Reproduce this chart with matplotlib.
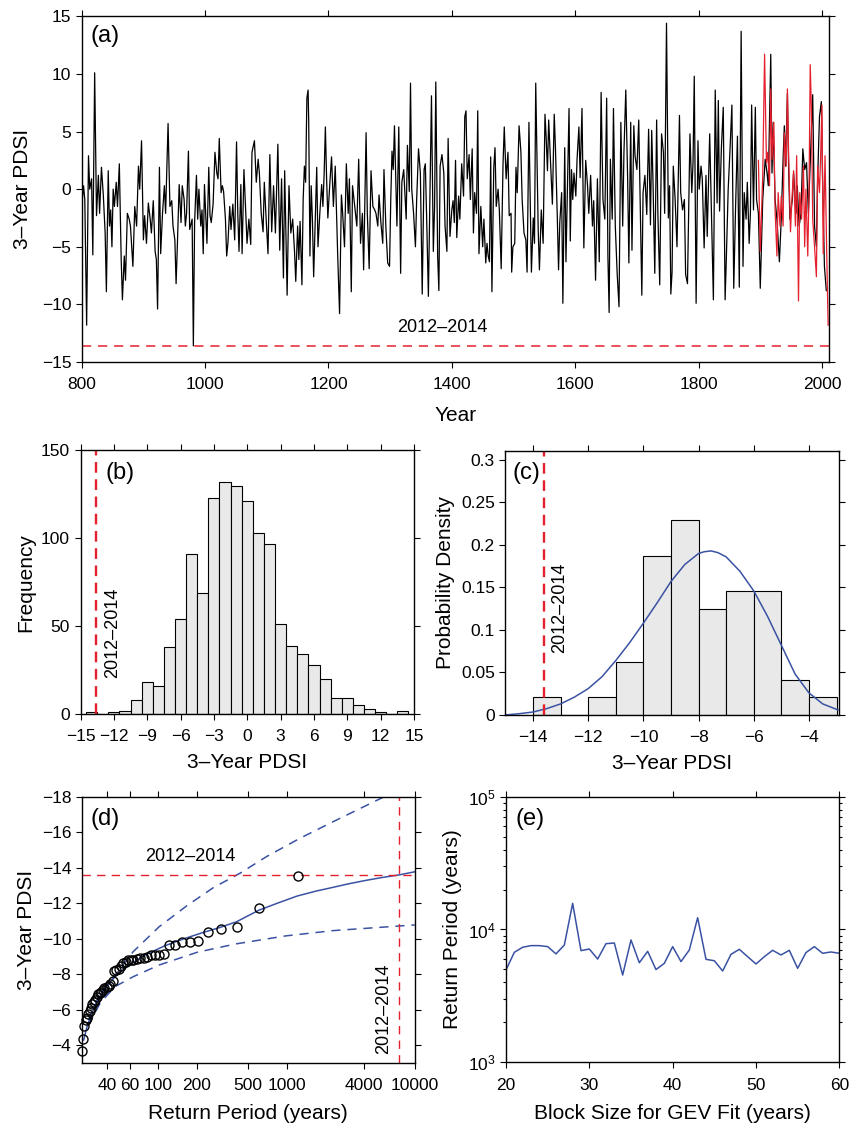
import numpy as np
import matplotlib
matplotlib.use('Agg')
import matplotlib.pyplot as plt
from matplotlib.ticker import FuncFormatter, NullLocator, FixedLocator, LogLocator

plt.rcParams['font.family'] = ['Liberation Sans', 'DejaVu Sans']

#============ Data ==============
# (a) 3-year PDSI reconstruction (black) and instrumental (red)
yr_recon = [800, 803, 805, 808, 811, 813, 816, 818, 821, 824, 827, 829, 832, 835, 838, 840,
            843, 845, 847, 849, 851, 853, 856, 858, 861, 864, 866, 869, 871, 874, 877, 879,
            883, 886, 889, 892, 894, 897, 900, 902, 905, 908, 911, 913, 916, 919, 921, 923,
            926, 928, 931, 934, 936, 938, 940, 943, 946, 948, 951, 953, 955, 958, 961, 963,
            966, 968, 970, 973, 975, 979, 981, 983, 986, 988, 990, 993, 995, 997, 999, 1001,
            1003, 1006, 1008, 1010, 1013, 1016, 1019, 1021, 1023, 1026, 1028, 1030, 1033, 1035,
            1037, 1040, 1042, 1045, 1048, 1051, 1053, 1055, 1058, 1060, 1063, 1065, 1068, 1071,
            1074, 1076, 1080, 1083, 1086, 1088, 1091, 1094, 1096, 1099, 1102, 1105, 1108, 1111,
            1114, 1118, 1121, 1124, 1127, 1129, 1133, 1136, 1139, 1142, 1145, 1147, 1150, 1152,
            1154, 1157, 1159, 1161, 1163, 1165, 1167, 1168, 1170, 1172, 1174, 1176, 1179, 1181,
            1183, 1186, 1189, 1191, 1193, 1195, 1197, 1199, 1202, 1205, 1208, 1211, 1215, 1218,
            1221, 1223, 1226, 1229, 1232, 1234, 1237, 1239, 1242, 1246, 1249, 1252, 1255, 1257,
            1261, 1263, 1266, 1269, 1272, 1275,
            1277, 1280, 1282, 1285, 1288, 1290, 1293, 1296, 1299, 1301, 1303, 1305, 1307, 1311,
            1314, 1317, 1319, 1322, 1326, 1328, 1331, 1333, 1335, 1338, 1341, 1343, 1346, 1349,
            1352, 1355, 1357, 1359, 1362, 1364, 1367, 1370, 1372, 1374, 1377, 1379, 1381, 1384,
            1387, 1389, 1392, 1394, 1397, 1400, 1402, 1404, 1406, 1408, 1411, 1413, 1416, 1419,
            1421, 1423, 1425, 1428, 1430, 1433, 1435, 1437, 1440, 1442, 1444, 1447, 1450, 1452,
            1455, 1457, 1459, 1461, 1463, 1465, 1468, 1470, 1472, 1475, 1477, 1480, 1483, 1485,
            1488, 1491, 1493, 1496, 1497, 1499, 1502, 1504, 1506, 1509, 1512, 1514,
            1517, 1520, 1522, 1525, 1529, 1532, 1534, 1536, 1540, 1542, 1545, 1548, 1551, 1553,
            1555, 1557, 1560, 1563, 1566, 1568, 1571, 1573, 1575, 1578, 1580, 1583, 1585, 1587,
            1590, 1592, 1594, 1596, 1598, 1601, 1603, 1606, 1608, 1611, 1614, 1617, 1620, 1622,
            1625, 1628, 1630, 1633, 1636, 1639, 1642, 1645, 1648, 1651, 1653, 1655, 1657, 1660,
            1662, 1665, 1668, 1671, 1674, 1677, 1679, 1682, 1685, 1687, 1690, 1692, 1695, 1697,
            1700, 1703, 1705, 1708, 1710, 1713, 1716, 1719, 1722, 1724, 1726, 1729, 1732, 1734,
            1737, 1740, 1743, 1745, 1748, 1751, 1753, 1755,
            1757, 1759, 1762, 1765, 1769, 1771, 1774, 1777, 1779, 1782, 1785, 1786, 1789, 1791,
            1793, 1796, 1799, 1801, 1804, 1806, 1809, 1812, 1814, 1818, 1821, 1824, 1827, 1830,
            1832, 1834, 1837, 1840, 1843, 1845, 1848, 1851, 1854, 1857, 1860, 1863, 1866, 1869,
            1872, 1874, 1877, 1879, 1882, 1884, 1886, 1889, 1892, 1894, 1897, 1900, 1904, 1908,
            1911, 1913, 1917, 1919, 1921, 1924, 1927, 1931, 1934, 1937, 1939, 1941, 1944, 1946,
            1948, 1952, 1954, 1958, 1960, 1963, 1966, 1969, 1972, 1975, 1978, 1981, 1985, 1988,
            1991, 1993, 1996, 1999, 2001, 2004, 2007]
pdsi_recon = [-1.5, 0.3, -0.9, -11.8, 2.9, 0.0, 0.9, -5.7, 10.1, -2.3, 1.2, -2.1, 1.9, -0.5, -3.8, -8.9,
              1.6, -3.2, -1.8, -5.0, 0.0, -1.5, 0.6, -1.5, 2.2, -6.1, -9.6, -5.8, -7.9, -2.1, -2.6, -3.2,
              -6.7, -1.5, -3.2, 2.0, 0.0, 4.2, -4.4, -2.3, -4.7, -1.2, -2.6, -3.8, -1.0, -5.4, -6.1, -10.4,
              1.9, -5.6, -2.1, 0.3, -2.1, 1.9, 5.7, -1.5, -1.0, -3.2, -4.4, -8.2, -5.0, 0.4, -2.9, 0.3,
              -0.9, -3.2, -2.1, 3.3, -3.5, -2.6, -13.6, -2.9, 1.2, -2.6, 0.0, -3.2, -1.8, -5.6, 0.4, -2.1,
              -4.7, 1.9, -2.3, -2.9, -1.3, 3.2, 1.4, 0.9, 4.4, -0.3, 0.3, -0.2, -2.6, -5.8,
              -4.7, -1.5, -3.5, -1.3, -4.4, 4.1, -2.1, -5.4, 0.4, -5.6, 1.7, -0.9, -4.7, -2.6,
              -4.8, 3.2, 4.2, 0.6, 2.6, 1.4, -2.1, -3.7, 0.6, -2.6, -5.6, 3.0, -3.7, 0.3,
              -3.8, 3.9, -5.3, 0.9, -7.7, 1.6, -9.2, 0.3, -3.8, -2.6, -5.4, -8.0, -3.2, -6.1,
              -2.8, -8.3, -0.9, 2.0, 0.6, 7.9, 8.6, 5.8, -5.8, 0.3, -2.6, -7.6, -1.8, 1.9,
              -5.0, -2.1, 0.4, -1.5, 1.3, 5.4, 0.9, -2.5, 0.3, 2.8, -1.5, 2.0, -5.8, -10.8,
              -0.5, -2.1, -5.0, 2.2, -2.1, 0.9, -8.9, 0.3, -1.2, -3.2, 2.6, -4.7, -2.1, -7.0,
              4.9, -2.1, -6.9, 1.6, -1.5, -1.8,
              -2.1, -3.2, -0.5, -2.9, -4.7, 1.7, -3.2, -6.4, -6.7, -0.9, 3.3, 1.7, 5.5, -3.2,
              5.4, -7.3, 0.6, 1.7, -2.6, 3.8, -0.2, 9.2, 0.0, -2.1, -5.0, -0.9, 3.5, 1.4,
              -9.1, 1.7, 2.2, -2.1, -9.3, -2.1, 8.1, -5.4, -1.6, 9.3, -5.8, -8.8, 2.0, 3.0,
              1.4, -3.2, -5.4, 4.4, -4.1, -1.8, -1.0, -2.9, 2.5, -4.2, -0.6, -2.6, 2.2, -0.6,
              6.3, 6.8, 0.9, 3.0, -0.9, 3.5, -3.8, -0.3, -2.1, 6.8, -5.6, -1.5, -5.0, -2.6,
              -6.4, -4.7, -5.8, -6.3, 2.8, -8.9, 1.9, 3.6, -1.5, 0.0, -1.8, -6.9, 2.2, 5.4,
              0.9, 3.2, -2.3, -2.1, -7.2, -5.0, -4.7, 1.9, -0.3, 5.5, 3.2, -0.9,
              -3.8, -4.4, -7.2, 5.8, -7.2, -2.5, -4.7, 9.2, -3.5, -7.0, -1.8, -4.7, 6.5, 4.4,
              1.6, 6.0, 2.3, -1.3, 6.5, 3.5, -2.5, -7.0, -2.9, -0.3, -9.9, 3.6, -6.3, -0.9,
              7.0, -4.5, 1.7, -0.9, 1.4, -0.6, 2.6, 5.4, 1.0, 7.0, -5.1, 2.5, 0.3, -2.1,
              1.2, -3.2, -1.0, -7.9, 0.9, -6.3, 8.4, -0.9, -2.6, 7.9, -5.8, -10.7, 2.6, -2.6,
              7.0, -3.2, -7.3, -10.2, 5.8, -3.2, 3.2, 8.6, 0.9, -6.4, 5.8, -5.3, 5.5, 2.9,
              1.7, 6.0, -0.3, -9.2, -0.3, 1.2, -2.2, 5.2, -3.1, 5.1, 0.9, -7.3, 6.0, -2.1,
              -8.3, 4.8, 3.2, -2.1, 14.4, -2.5, 0.3, -9.1,
              -7.2, 2.0, -0.9, -5.0, 6.4, -0.3, -1.8, -0.9, -7.4, -8.2, 2.0, 4.8, -0.3, 2.3,
              9.8, -9.9, 4.2, 0.0, 2.0, 0.9, -5.1, 1.2, -4.1, 4.8, -2.6, -9.6, 8.6, -1.2,
              7.7, -1.9, 3.6, 7.1, -9.6, -6.0, 0.0, 3.5, 7.3, -8.6, -1.5, 4.6, -8.5, 13.7,
              -6.7, -0.3, -2.6, 0.6, -4.7, -2.1, 7.3, -1.8, 7.1, -0.9, -2.1, -8.6, -0.9, 2.6,
              1.4, 0.3, 11.7, 1.4, 5.8, -0.9, -2.6, -6.3, -2.6, 2.6, 5.5, 2.0, 8.3, 1.7,
              -2.6, -0.9, 1.4, -2.1, 0.3, -3.2, -2.1, 3.5, 1.7, 2.3, -2.1, 2.3, 8.2, -3.2,
              -5.0, 0.9, 6.3, 7.6, 0.9, -6.7, -8.8]
yr_instr = [1897, 1900, 1904, 1907, 1910, 1912, 1915, 1917, 1919, 1922, 1924, 1927, 1929, 1932,
            1934, 1937, 1939, 1942, 1944, 1946, 1949, 1951, 1954, 1957, 1959, 1962, 1964, 1967,
            1970, 1972, 1974, 1977, 1979, 1981, 1983, 1985, 1988, 1991, 1993, 1996, 1998, 2000,
            2002, 2005, 2008, 2010]
pdsi_instr = [2.5, -5.4, 1.2, 11.7, 2.3, 3.2, 0.3, 8.7, 2.6, 5.8, -1.8, -5.8, -0.3, -3.2,
              -0.6, -3.2, 4.9, 2.0, 8.7, 2.9, -3.7, -1.2, 1.6, -3.2, 2.9, -9.7, -0.3, -2.6,
              2.0, -5.0, 0.0, -5.8, -0.3, 10.8, 6.7, -2.6, -5.0, -7.6, 2.0, -0.3, 3.2, 7.3,
              -5.6, 2.9, -6.4, -11.8]
drought_2012_2014 = -13.6

# (b) histogram of 3-year PDSI, 1-unit bins
hist_centers = [-14, -13, -12, -11, -10, -9, -8, -7, -6, -5, -4, -3, -2, -1, 0,
                1, 2, 3, 4, 5, 6, 7, 8, 9, 10, 11, 12, 13, 14]
hist_counts = [1, 0, 1, 2, 8, 18, 16, 38, 54, 91, 69, 123, 132, 130, 121,
               103, 97, 51, 39, 34, 28, 20, 9, 9, 5, 3, 1, 0, 2]

# (c) block minima density + fitted GEV pdf
bm_left_edges = [-14, -13, -12, -11, -10, -9, -8, -7, -6, -5, -4]
bm_density = [0.0208, 0.0, 0.0208, 0.0625, 0.1875, 0.2292, 0.125, 0.1458, 0.1458, 0.0417, 0.0208]
pdf_x = [-15, -14.5, -14, -13.5, -13.0, -12.5, -12.0, -11.5, -11.0, -10.5, -10.0, -9.5, -9.0,
         -8.5, -8.0, -7.8, -7.55, -7.3, -7.0, -6.5, -6.0, -5.5, -5.0, -4.5, -4.0, -3.5, -2.95]
pdf_y = [0.0, 0.0015, 0.0035, 0.0075, 0.013, 0.021, 0.031, 0.045, 0.064, 0.085, 0.108, 0.132, 0.157,
         0.177, 0.190, 0.192, 0.193, 0.191, 0.186, 0.169, 0.146, 0.116, 0.082, 0.048, 0.026, 0.013, 0.006]

# (d) return levels
rp_obs = [1225, 612, 408, 306, 245, 204, 175, 153, 136, 122, 111, 102, 94, 88, 82, 77,
          72, 68, 64, 61, 58, 56, 53, 51, 49, 47, 45, 44, 42, 41, 40, 38, 37, 36, 35, 34,
          33, 32, 31.4, 30.6, 29.9, 29.2, 28.5, 27.8, 27.2, 26.6, 26.1, 25.5]
pdsi_obs = [-13.55, -11.71, -10.67, -10.54, -10.39, -9.88, -9.83, -9.83, -9.64, -9.64, -9.11,
            -9.1, -9.06, -9.05, -8.98, -8.92, -8.88, -8.85, -8.82, -8.8, -8.78, -8.7, -8.6,
            -8.45, -8.3, -8.25, -8.2, -7.6, -7.45, -7.35, -7.25, -7.2, -7.1, -7.0, -6.95,
            -6.85, -6.7, -6.55, -6.45, -6.3, -6.1, -5.9, -5.75, -5.55, -5.4, -5.05, -4.35, -3.66]
rp_fit = [26.2, 28.0, 30.4, 33.0, 36.4, 40.5, 46.1, 53.0, 62.2, 80.0, 113, 160, 218, 300,
          407, 607, 850, 1208, 1700, 2301, 3000, 4064, 5500, 7520, 10000]
pdsi_fit = [-4.28, -5.1, -5.79, -6.4, -6.92, -7.4, -7.85, -8.25, -8.61, -9.1, -9.6, -10.0,
            -10.32, -10.62, -10.95, -11.6, -12.0, -12.4, -12.68, -12.89, -13.08, -13.27,
            -13.44, -13.59, -13.77]
rp_ci = [28.6, 35.1, 42.0, 63.7, 101.6, 166, 268, 432, 696, 1265, 2301, 5650, 7600]
pdsi_ci_hi = [-5.4, -6.91, -7.57, -9.26, -10.67, -11.84, -12.87, -13.68, -14.62, -15.65,
              -16.59, -17.97, -18.4]
rp_ci_lo = [28.6, 35.1, 45.9, 63.7, 101.6, 201, 402, 979, 2301, 9960]
pdsi_ci_lo = [-5.1, -6.35, -7.29, -7.85, -8.51, -9.23, -9.7, -10.15, -10.45, -10.77]
rp_2012_2014 = 7520

# (e) return period vs block size
block_size = list(range(20, 61))
rp_block = [4960, 6730, 7350, 7560, 7560, 7430, 6550, 7640, 15740, 6930, 7130, 5990, 7820,
            7910, 4540, 8340, 5620, 6850, 4990, 5560, 7430, 5730, 7010, 12270, 5960, 5820,
            4870, 6500, 7090, 6240, 5500, 6240, 6970, 6430, 6970, 5100, 6700, 7430, 6620,
            6770, 6620]

#============ Style ==============
red = '#e4202e'
blue = '#3a52a3'
gray = '#e9e9e9'
tick_fs = 12.5
label_fs = 15
panel_fs = 17

def style_ax(ax):
    ax.tick_params(which='both', direction='out', top=True, right=True,
                   labelsize=tick_fs, width=0.8, pad=3)
    ax.tick_params(axis='x', which='both', pad=6.5)
    ax.tick_params(which='major', length=4.5)
    ax.tick_params(which='minor', length=2.5)
    for s in ax.spines.values():
        s.set_linewidth(1.0)

fig = plt.figure(figsize=(8.52, 11.24), dpi=100)

#============ (a) ==============
ax = fig.add_axes([0.0959, 0.6779, 0.8768, 0.3076])
ax.plot(yr_recon, pdsi_recon, color='black', lw=0.9)
ax.plot(yr_instr, pdsi_instr, color=red, lw=0.9)
ax.axhline(drought_2012_2014, color=red, lw=1.1, linestyle=(0, (6, 4.5)))
ax.text(1385, -12.0, '2012\u20132014', fontsize=13, ha='center', va='center')
ax.set_xlim(800, 2011)
ax.set_ylim(-15, 15)
ax.set_xticks(range(800, 2001, 200))
ax.set_yticks(range(-15, 16, 5))
style_ax(ax)
ax.set_xlabel('Year', fontsize=label_fs, labelpad=10)
ax.set_ylabel('3\u2013Year PDSI', fontsize=label_fs, labelpad=7)
ax.text(0.012, 0.975, '(a)', transform=ax.transAxes, fontsize=panel_fs, va='top', ha='left')

#============ (b) ==============
ax = fig.add_axes([0.0945, 0.3647, 0.3914, 0.2345])
ax.bar(hist_centers, hist_counts, width=1.0, color=gray, edgecolor='black', linewidth=0.8)
ax.axvline(drought_2012_2014, color=red, lw=1.7, linestyle=(0, (4.5, 2.8)))
ax.text(-12.1, 46, '2012\u20132014', rotation=90, fontsize=13, ha='center', va='center')
ax.set_xlim(-15, 15)
ax.set_ylim(0, 150)
ax.set_xticks(range(-15, 16, 3))
ax.set_yticks([0, 50, 100, 150])
style_ax(ax)
ax.set_xlabel('3\u2013Year PDSI', fontsize=label_fs, labelpad=6)
ax.set_ylabel('Frequency', fontsize=label_fs)
ax.text(0.076, 0.958, '(b)', transform=ax.transAxes, fontsize=panel_fs, va='top', ha='left')

#============ (c) ==============
ax = fig.add_axes([0.5932, 0.3639, 0.3919, 0.2352])
ax.bar(bm_left_edges, bm_density, width=1.0, align='edge', color=gray,
       edgecolor='black', linewidth=0.8)
ax.plot(pdf_x, pdf_y, color=blue, lw=1.1)
ax.axvline(drought_2012_2014, color=red, lw=1.7, linestyle=(0, (4.5, 2.8)))
ax.text(-13.04, 0.126, '2012\u20132014', rotation=90, fontsize=13, ha='center', va='center')
ax.set_xlim(-15, -2.9)
ax.set_ylim(0, 0.311)
ax.set_xticks([-14, -12, -10, -8, -6, -4])
ax.set_yticks([0, 0.05, 0.1, 0.15, 0.2, 0.25, 0.3])
ax.yaxis.set_major_formatter(FuncFormatter(lambda v, p: '%g' % v))
style_ax(ax)
ax.set_xlabel('3\u2013Year PDSI', fontsize=label_fs, labelpad=6)
ax.set_ylabel('Probability Density', fontsize=label_fs)
ax.text(0.021, 0.958, '(c)', transform=ax.transAxes, fontsize=panel_fs, va='top', ha='left')

#============ (d) ==============
ax = fig.add_axes([0.0959, 0.0545, 0.3912, 0.2367])
ax.set_xscale('log')
ax.plot(rp_fit, pdsi_fit, color=blue, lw=1.1)
ax.plot(rp_ci, pdsi_ci_hi, color=blue, lw=1.1, linestyle=(0, (6, 4.5)))
ax.plot(rp_ci_lo, pdsi_ci_lo, color=blue, lw=1.1, linestyle=(0, (6, 4.5)))
ax.axhline(drought_2012_2014, color=red, lw=1.0, linestyle=(0, (6, 4.5)))
ax.axvline(rp_2012_2014, color=red, lw=1.0, linestyle=(0, (6, 4.5)))
ax.plot(rp_obs, pdsi_obs, 'o', mfc='none', mec='black', mew=1.0, ms=6.5, clip_on=False)
ax.text(176, -14.62, '2012\u20132014', fontsize=13, ha='center', va='center')
ax.text(5650, -6.03, '2012\u20132014', rotation=90, fontsize=13, ha='center', va='center')
ax.set_xlim(25.3, 10000)
ax.set_ylim(-3, -18)
ax.xaxis.set_major_locator(FixedLocator([40, 60, 100, 200, 500, 1000, 4000, 10000]))
ax.xaxis.set_minor_locator(NullLocator())
ax.set_xticklabels(['40', '60', '100', '200', '500', '1000', '4000', '10000'])
ax.set_yticks(range(-18, -3, 2))
style_ax(ax)
ax.set_xlabel('Return Period (years)', fontsize=label_fs, labelpad=8)
ax.set_ylabel('3\u2013Year PDSI', fontsize=label_fs)
ax.text(0.027, 0.956, '(d)', transform=ax.transAxes, fontsize=panel_fs, va='top', ha='left')

#============ (e) ==============
ax = fig.add_axes([0.5939, 0.0549, 0.3912, 0.2363])
ax.set_yscale('log')
ax.plot(block_size, rp_block, color=blue, lw=1.1)
ax.set_xlim(20, 60)
ax.set_ylim(1e3, 1e5)
ax.set_xticks([20, 30, 40, 50, 60])
ax.yaxis.set_major_locator(LogLocator(base=10))
ax.yaxis.set_minor_locator(LogLocator(base=10, subs=range(2, 10)))
style_ax(ax)
ax.set_xlabel('Block Size for GEV Fit (years)', fontsize=label_fs, labelpad=8)
ax.set_ylabel('Return Period (years)', fontsize=label_fs)
ax.text(0.027, 0.956, '(e)', transform=ax.transAxes, fontsize=panel_fs, va='top', ha='left')

fig.savefig('out.png', dpi=100)
